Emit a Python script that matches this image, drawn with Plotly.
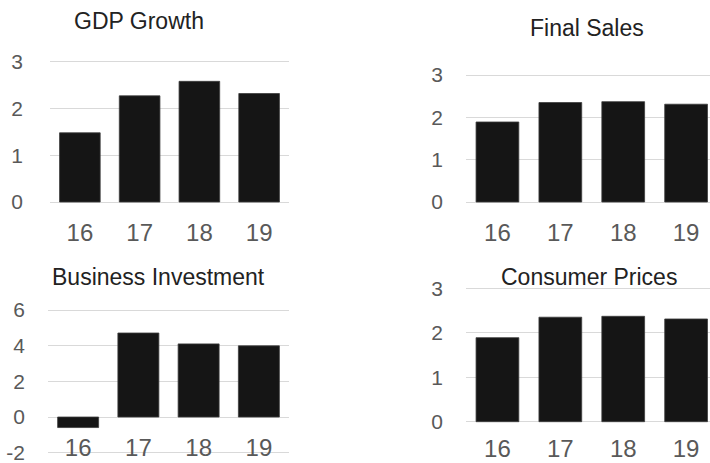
import plotly.graph_objects as go

# Calendar years (two-digit labels) shared by all four panels
years = ["16", "17", "18", "19"]

gdp_growth = [1.48, 2.27, 2.58, 2.32]
final_sales = [1.89, 2.35, 2.37, 2.31]
business_investment = [-0.59, 4.71, 4.10, 3.99]
consumer_prices = [1.89, 2.35, 2.37, 2.31]

titles = ["GDP Growth", "Final Sales", "Business Investment", "Consumer Prices"]

# Value-axis ticks per panel (hyphen minus, as in the source tables)
ticks_pct3 = [0, 1, 2, 3]
ticks_invest = [-2, 0, 2, 4, 6]
ticklabels_pct3 = ["0", "1", "2", "3"]
ticklabels_invest = ["-2", "0", "2", "4", "6"]

W, H = 710, 463
FONT = "Liberation Sans, Arial, sans-serif"
BAR = "#151515"
GRID = "#d9d9d9"
TICK = "#595959"

# Plot-area geometry in pixels: left, right, pixel y of lowest and highest gridline
panels = [
    dict(vals=gdp_growth, x0=50, x1=289, xr=[-0.5, 3.5],
         tv=ticks_pct3, tt=ticklabels_pct3, plo=202, phi=61.7,
         title_xy=(139, 21), xlab_off=12, ylab_off=26),
    dict(vals=final_sales, x0=466, x1=710, xr=[-0.5, 3.38],
         tv=ticks_pct3, tt=ticklabels_pct3, plo=202, phi=75,
         title_xy=(587, 28), xlab_off=12, ylab_off=22),
    dict(vals=business_investment, x0=48, x1=289, xr=[-0.5, 3.5],
         tv=ticks_invest, tt=ticklabels_invest, plo=452.7, phi=310,
         title_xy=(158, 276.5), xlab_off=-23, ylab_off=22),
    dict(vals=consumer_prices, x0=466, x1=710, xr=[-0.5, 3.38],
         tv=ticks_pct3, tt=ticklabels_pct3, plo=421.7, phi=288.3,
         title_xy=(588.5, 276.5), xlab_off=9, ylab_off=22),
]

fig = go.Figure()
layout = dict(
    width=W, height=H,
    margin=dict(l=0, r=0, t=0, b=0),
    paper_bgcolor="white", plot_bgcolor="white",
    template="none", showlegend=False,
    bargap=0.32,
    annotations=[],
)

for i, (p, title) in enumerate(zip(panels, titles), start=1):
    xa = "x" if i == 1 else f"x{i}"
    ya = "y" if i == 1 else f"y{i}"
    fig.add_trace(go.Bar(
        x=years, y=p["vals"], xaxis=xa, yaxis=ya,
        marker=dict(color=BAR, line=dict(color="#3c3c3c", width=0.8)),
    ))

    vlo, vhi = p["tv"][0], p["tv"][-1]
    scale = (p["plo"] - p["phi"]) / (vhi - vlo)
    pad = 1.5 / scale
    yr = [vlo - pad, vhi + pad]
    ybot = 1 - (p["plo"] + 1.5) / H
    ytop = 1 - (p["phi"] - 1.5) / H

    layout["xaxis" if i == 1 else f"xaxis{i}"] = dict(
        domain=[p["x0"] / W, min(p["x1"] / W, 1.0)],
        anchor=ya, type="category", range=p["xr"],
        showgrid=False, showline=False, zeroline=False, ticks="",
        tickfont=dict(family=FONT, size=24, color=TICK),
        ticklabelstandoff=p["xlab_off"], ticklabeloverflow="allow",
        automargin=False, fixedrange=True,
    )
    layout["yaxis" if i == 1 else f"yaxis{i}"] = dict(
        domain=[ybot, ytop], anchor=xa, range=yr,
        tickmode="array", tickvals=p["tv"], ticktext=p["tt"],
        showgrid=True, gridcolor=GRID, gridwidth=1,
        zeroline=True, zerolinecolor=GRID, zerolinewidth=1,
        showline=False, ticks="",
        tickfont=dict(family=FONT, size=21, color=TICK),
        ticklabelstandoff=p["ylab_off"], ticklabeloverflow="allow",
        automargin=False, fixedrange=True,
    )
    tx, ty = p["title_xy"]
    layout["annotations"].append(dict(
        text=title, x=tx / W, y=1 - ty / H, xref="paper", yref="paper",
        xanchor="center", yanchor="middle", showarrow=False,
        font=dict(family=FONT, size=23, color="#222222"),
    ))

fig.update_layout(**layout)
fig.write_html("out.html", config={"displayModeBar": False})
